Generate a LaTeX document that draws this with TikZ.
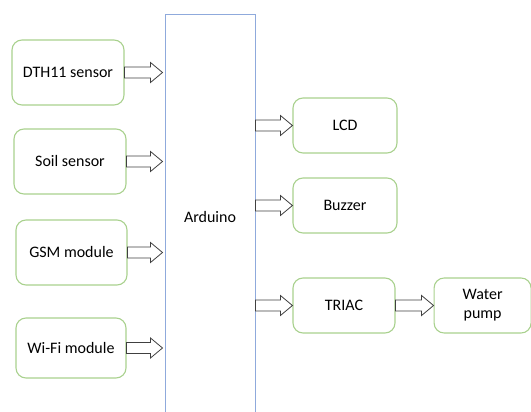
\documentclass[tikz,border=0pt]{standalone}
\usepackage{fontspec}
\setmainfont{Carlito}
\usepackage{xcolor}
\usetikzlibrary{calc}
\usetikzlibrary{positioning, arrows.meta}

\definecolor{boxgreen}{HTML}{A9D18E}
\definecolor{ardblue}{HTML}{8FAADC}
\definecolor{arrgray}{HTML}{404040}

% block arrow from one point to another (same height as the first)
\newcommand{\blockarrow}[2]{%
    \draw[blockarr] let \p1 = #1, \p2 = #2 in
        (\x1,\y1+5.5pt) -- (\x2-12pt,\y1+5.5pt) -- (\x2-12pt,\y1+10pt) -- (\x2,\y1)
        -- (\x2-12pt,\y1-10pt) -- (\x2-12pt,\y1-5.5pt) -- (\x1,\y1-5.5pt) -- cycle;}

\begin{document}
\begin{tikzpicture}[x=1pt, y=-1pt, font=\fontsize{16}{19}\selectfont,
    main/.style = {draw=boxgreen, line width=1.1pt, rounded corners=10pt, align=center, inner sep=0pt},
    ard/.style = {draw=ardblue, line width=1pt, minimum width=90pt, minimum height=405pt, inner sep=0pt},
    blockarr/.style = {draw=arrgray, fill=white, line width=0.8pt, line join=miter}]
    \useasboundingbox (0,0) rectangle (531,412);
    % Nodes
    \node[ard] (ard) at (210,217.5) {Arduino};
    \node[main, minimum width=112pt, minimum height=65pt] (dth) at (68,72.5) {DTH11 sensor};
    \node[main, minimum width=112pt, minimum height=65pt] (soil) at (70,161.5) {Soil sensor};
    \node[main, minimum width=111pt, minimum height=65pt] (gsm) at (71.5,252.5) {GSM module};
    \node[main, minimum width=110pt, minimum height=60pt] (wifi) at (71,348) {Wi-Fi module};
    \node[main, minimum width=104pt, minimum height=55pt] (lcd) at (345,125.5) {LCD};
    \node[main, minimum width=104pt, minimum height=55pt] (buzz) at (345,205.5) {Buzzer};
    \node[main, minimum width=102pt, minimum height=55pt] (triac) at (344,305.5) {TRIAC};
    \node[main, minimum width=97pt, minimum height=55pt] (pump) [right=38pt of triac] {Water\\pump};

    % Arrows
    \blockarrow{(dth.east)}{($(dth.east -| ard.west)+(-2pt,0)$)}
    \blockarrow{(soil.east)}{($(soil.east -| ard.west)+(-2pt,0)$)}
    \blockarrow{(gsm.east)}{($(gsm.east -| ard.west)+(-2pt,0)$)}
    \blockarrow{(wifi.east)}{($(wifi.east -| ard.west)+(-2pt,0)$)}
    \blockarrow{(lcd.west -| ard.east)}{(lcd.west)}
    \blockarrow{(buzz.west -| ard.east)}{(buzz.west)}
    \blockarrow{(triac.west -| ard.east)}{(triac.west)}
    \blockarrow{(triac.east)}{(pump.west)}
\end{tikzpicture}
\end{document}
